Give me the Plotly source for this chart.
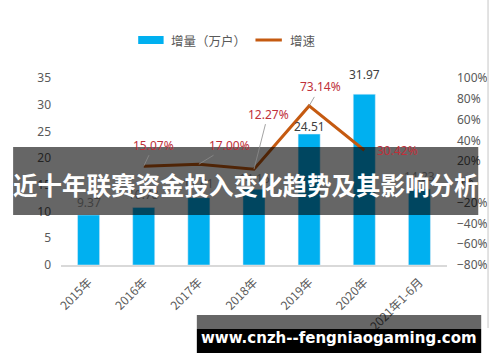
import plotly.graph_objects as go

categories = ["2015年", "2016年", "2017年", "2018年", "2019年", "2020年", "2021年1-6月"]
increase = [9.37, 10.78, 12.61, 14.16, 24.51, 31.97, 14.23]
rate_categories = ["2016年", "2017年", "2018年", "2019年", "2020年"]
rate = [0.1507, 0.1700, 0.1227, 0.7314, 0.3042]
rate_labels = ["15.07%", "17.00%", "12.27%", "73.14%", "30.42%"]
left_ticks = [0, 5, 10, 15, 20, 25, 30, 35]
right_ticks = [-0.8, -0.6, -0.4, -0.2, 0.0, 0.2, 0.4, 0.6, 0.8, 1.0]

title_text = "近十年联赛资金投入变化趋势及其影响分析"
site_text = "www.cnzh--fengniaogaming.com"

W, H = 500, 362
ML, MR, MT, MB = 61, 44, 78, 97
PW, PH = W - ML - MR, H - MT - MB

def px(x):
    return (x - ML) / PW

def py(y):
    return (H - MB - y) / PH

BAR = "#00B0F0"
LINE = "#C55A11"
GRAY = "#595959"
RED = "#C0303A"

fig = go.Figure()
fig.add_trace(go.Bar(x=categories, y=increase, marker_color=BAR, width=0.4,
                     name="增量（万户）", showlegend=False, hoverinfo="skip"))
fig.add_trace(go.Scatter(x=rate_categories, y=rate, yaxis="y2", mode="lines",
                         line=dict(color=LINE, width=3), name="增速",
                         showlegend=False, hoverinfo="skip"))

ann = []
bar_shift = [8, 8, 10, 6, 3, 15, 8]
for c, v, s in zip(categories, increase, bar_shift):
    ann.append(dict(x=c, y=v, xref="x", yref="y", text=f"{v:.2f}", showarrow=False,
                    yanchor="bottom", yshift=s - 6,
                    font=dict(size=12, color="#404040", family="Noto Sans, sans-serif")))

offsets = [(10, -21), (31, -19), (14, -55), (11, -19), (33, 0)]
for c, v, t, (ax, ay) in zip(rate_categories, rate, rate_labels, offsets):
    ann.append(dict(x=c, y=v, xref="x", yref="y2", text=t, showarrow=True,
                    ax=ax, ay=ay, arrowhead=0, arrowwidth=0.8, standoff=0,
                    arrowcolor="#8c8c8c" if ay != 0 else "rgba(0,0,0,0)",
                    font=dict(size=12, color=RED, family="Noto Sans, sans-serif")))

# legend (custom)
ann.append(dict(x=px(172), y=py(40), xref="paper", yref="paper", text="增量（万户）",
                showarrow=False, xanchor="left", yanchor="middle",
                font=dict(size=12.5, color=GRAY, family="Noto Sans CJK SC")))
ann.append(dict(x=px(293), y=py(40), xref="paper", yref="paper", text="增速",
                showarrow=False, xanchor="left", yanchor="middle",
                font=dict(size=12.5, color=GRAY, family="Noto Sans CJK SC")))

# overlay texts
ann.append(dict(x=px(250), y=py(184), xref="paper", yref="paper", text="<b>" + title_text + "</b>",
                showarrow=False, xanchor="center", yanchor="middle",
                font=dict(size=24.5, color="white", family="Noto Sans CJK SC")))
ann.append(dict(x=px(345), y=py(338), xref="paper", yref="paper", text="<b>" + site_text + "</b>",
                showarrow=False, xanchor="center", yanchor="middle",
                font=dict(size=15, color="white", family="DejaVu Sans")))

shapes = [
    dict(type="rect", xref="paper", yref="paper", x0=px(140), x1=px(166), y0=py(36), y1=py(44),
         fillcolor=BAR, line=dict(width=0)),
    dict(type="line", xref="paper", yref="paper", x0=px(260), x1=px(287), y0=py(40), y1=py(40),
         line=dict(color=LINE, width=3)),
    dict(type="line", xref="paper", yref="paper", x0=px(498), x1=px(498), y0=py(0), y1=py(328),
         line=dict(color="#d9d9d9", width=1.5)),
    dict(type="rect", xref="paper", yref="paper", x0=px(12), x1=px(488), y0=py(147), y1=py(215),
         fillcolor="rgba(0,0,0,0.6)", line=dict(width=0), layer="above"),
    dict(type="rect", xref="paper", yref="paper", x0=px(200), x1=px(491), y0=py(315), y1=py(329),
         fillcolor="rgba(0,0,0,0.6)", line=dict(width=0), layer="above"),
    dict(type="rect", xref="paper", yref="paper", x0=px(200), x1=px(491), y0=py(329), y1=py(353),
         fillcolor="black", line=dict(width=0), layer="above"),
]

fig.update_layout(
    width=W, height=H, autosize=False,
    margin=dict(l=ML, r=MR, t=MT, b=MB, pad=0),
    paper_bgcolor="white", plot_bgcolor="white",
    font=dict(family="Noto Sans CJK SC", color=GRAY, size=12),
    xaxis=dict(categoryorder="array", categoryarray=categories, tickangle=-45,
               showline=True, linecolor="#d9d9d9", linewidth=1.5, showgrid=False,
               ticks="", tickfont=dict(size=12, color=GRAY), ticklabelstandoff=4),
    yaxis=dict(range=[0, 35], tickvals=left_ticks, showgrid=False, zeroline=False,
               showline=False, ticks="", ticklabelstandoff=9,
               tickfont=dict(size=12, color=GRAY, family="Noto Sans, sans-serif")),
    yaxis2=dict(range=[-0.8, 1.0], tickvals=right_ticks, tickformat=".0%", overlaying="y",
                side="right", showgrid=False, zeroline=False, showline=False, ticks="",
                ticklabelstandoff=9,
                tickfont=dict(size=12, color=GRAY, family="Noto Sans, sans-serif")),
    annotations=ann, shapes=shapes, bargap=0.6,
)

fig.write_html("out.html")
